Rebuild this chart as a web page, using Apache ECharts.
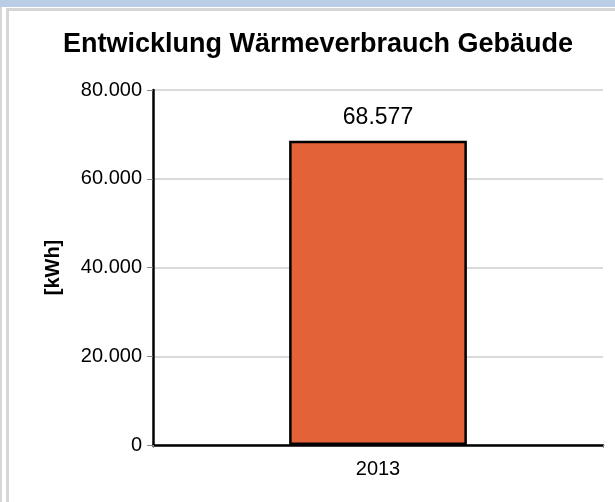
<!DOCTYPE html>
<html>
<head>
<meta charset="utf-8">
<script src="https://cdn.jsdelivr.net/npm/echarts@6/dist/echarts.min.js"></script>
<style>
  html, body { margin: 0; padding: 0; background: #fff; }
  #chart { width: 615px; height: 502px; }
</style>
</head>
<body>
<div id="chart"></div>
<script>
// Daten
var categories = ['2013'];
var verbrauch = [68577];
var yTickLabels = ['0', '20.000', '40.000', '60.000', '80.000'];

// Zahl im deutschen Format (Tausenderpunkt)
function fmtDe(v) {
  return String(Math.round(v)).replace(/\B(?=(\d{3})+(?!\d))/g, '.');
}

var chart = echarts.init(document.getElementById('chart'));

var option = {
  backgroundColor: '#fff',
  animation: false,
  textStyle: { fontFamily: 'Liberation Sans, Arial, sans-serif' },
  // Fensterrahmen oben/links
  graphic: [
    { type: 'rect', shape: { x: 0, y: 0, width: 615, height: 7 }, style: { fill: '#b9cde5' }, silent: true },
    { type: 'rect', shape: { x: 6, y: 8, width: 609, height: 3 }, style: { fill: '#d6d6d6' }, silent: true },
    { type: 'rect', shape: { x: 0, y: 7, width: 2, height: 495 }, style: { fill: '#d6d6d6' }, silent: true },
    { type: 'rect', shape: { x: 6, y: 8, width: 3, height: 494 }, style: { fill: '#d6d6d6' }, silent: true }
  ],
  title: {
    text: 'Entwicklung Wärmeverbrauch Gebäude',
    left: 313,
    textAlign: 'center',
    top: 26,
    textStyle: { fontSize: 27, fontWeight: 'bold', color: '#000' }
  },
  grid: {
    left: 153,
    right: 12,
    top: 90,
    bottom: 57
  },
  xAxis: {
    type: 'category',
    data: categories,
    axisLine: { lineStyle: { color: '#000', width: 2.5 } },
    axisTick: { show: true, length: 3, lineStyle: { color: '#888' } },
    axisLabel: { fontSize: 20, color: '#000', margin: 14 }
  },
  yAxis: {
    type: 'value',
    min: 0,
    max: 80000,
    interval: 20000,
    name: '[kWh]',
    nameLocation: 'middle',
    nameGap: 90,
    nameRotate: 90,
    nameTextStyle: { fontSize: 20, fontWeight: 'bold', color: '#000' },
    axisLine: { show: true, lineStyle: { color: '#000', width: 2.5 } },
    axisTick: { show: true, length: 6, lineStyle: { color: '#888' } },
    axisLabel: {
      fontSize: 20,
      color: '#000',
      margin: 11,
      formatter: function (v) { return yTickLabels[Math.round(v / 20000)]; }
    },
    splitLine: { show: true, lineStyle: { color: '#dadada', width: 2 } }
  },
  series: [{
    type: 'bar',
    data: verbrauch,
    barWidth: '39.5%',
    itemStyle: { color: '#e46238', borderColor: '#000', borderWidth: 2.5 },
    label: {
      show: true,
      position: 'top',
      distance: 12,
      fontSize: 23,
      color: '#000',
      formatter: function (p) { return fmtDe(p.value); }
    }
  }]
};

chart.setOption(option);
</script>
</body>
</html>
